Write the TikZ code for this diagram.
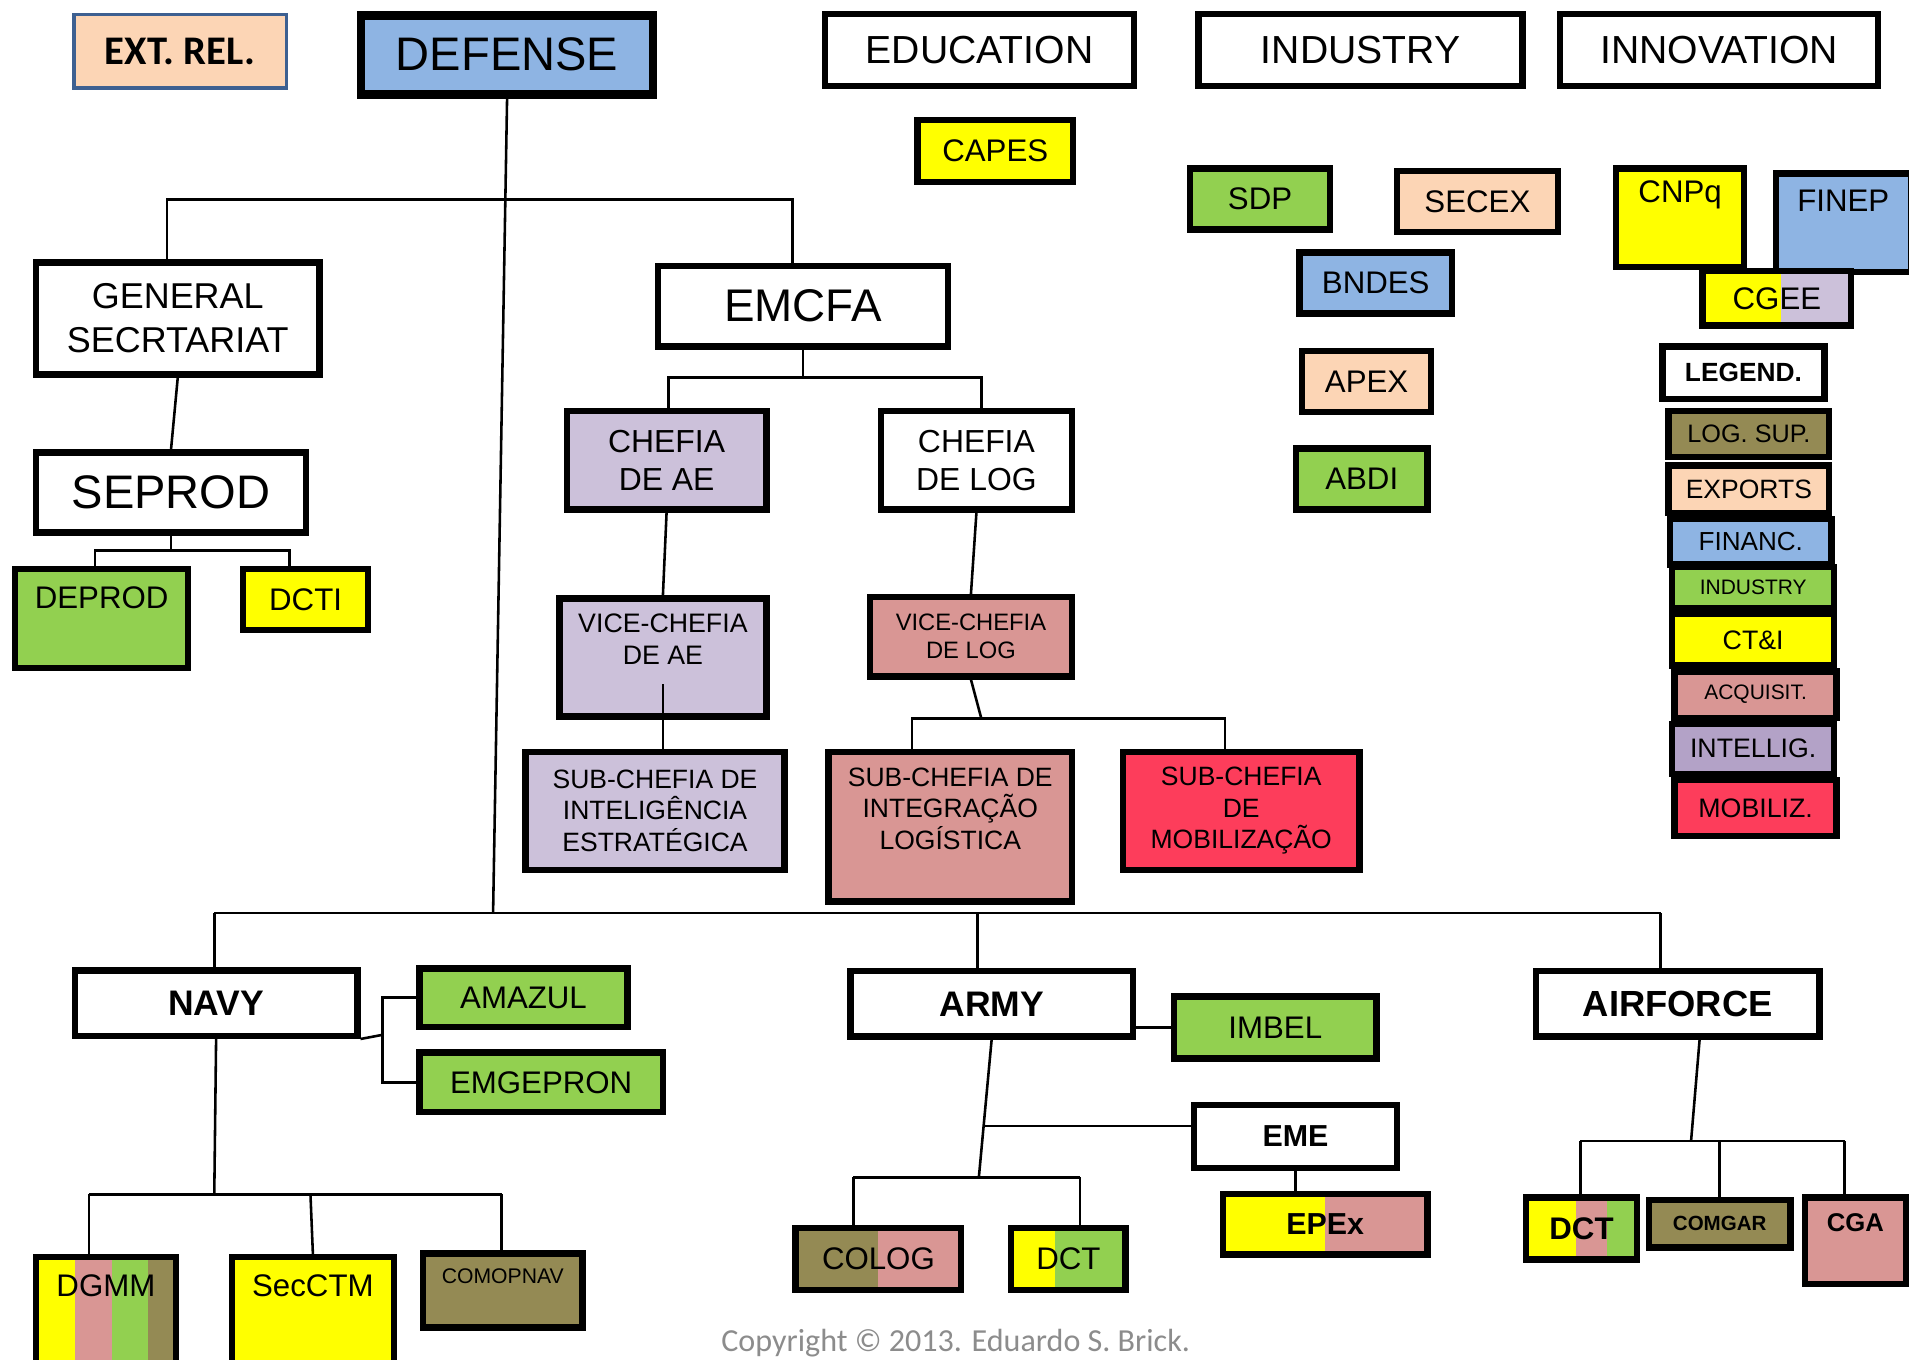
\documentclass[tikz,border=0pt]{standalone}
\usepackage{fontspec}
\setmainfont{Liberation Sans}
\newfontfamily\calibri{Carlito}
\usetikzlibrary{calc}

\definecolor{cblue}{HTML}{8EB4E3}
\definecolor{cpeach}{HTML}{FCD5B5}
\definecolor{cgreen}{HTML}{92D050}
\definecolor{cyel}{HTML}{FFFF00}
\definecolor{clav}{HTML}{CCC1DA}
\definecolor{cpink}{HTML}{D99694}
\definecolor{colive}{HTML}{948A54}
\definecolor{cpurple}{HTML}{B3A2C7}
\definecolor{cred}{HTML}{FD3D5B}
\definecolor{cframe}{HTML}{3D6091}
\definecolor{cgray}{HTML}{8C8C8C}

% extra depth below the text, pushes it up in a tall box
\newcommand{\lift}[1]{\rule[-#1]{0pt}{#1}}

\tikzset{
  box/.style={draw, line width=3pt, inner sep=0pt, align=center, font=\fontsize{14.6}{17}\selectfont},
  head/.style={box, minimum height=1.18cm, font=\fontsize{18.3}{22}\selectfont},
  force/.style={box, minimum height=1.07cm, font=\bfseries\fontsize{16.6}{20}\selectfont},
  conn/.style={line width=1.2pt},
  stripes/.style={path picture={
    \foreach \clr/\xa/\xb in {#1}
      \fill[\clr] ($(path picture bounding box.south west)!\xa!(path picture bounding box.south east)$)
        rectangle ($(path picture bounding box.north west)!\xb!(path picture bounding box.north east)$);
  }}
}

\begin{document}
\begin{tikzpicture}[x=0.02cm, y=-0.02cm]
\useasboundingbox (0,0) rectangle (1568,1117);

% top row
\node[box, draw=cframe, line width=1.6pt, fill=cpeach, minimum width=3.49cm, minimum height=1.21cm, font=\calibri\bfseries\fontsize{19}{22}\selectfont] (extrel) at (148,42) {EXT. REL.};
\node[box, line width=4pt, fill=cblue, minimum width=4.80cm, minimum height=1.30cm, font=\fontsize{22}{26}\selectfont] (defense) at (416.5,45) {DEFENSE};
\node[head, minimum width=5.08cm] (education) at (804.5,41) {EDUCATION};
\node[head, minimum width=5.32cm] (industry) at (1117.5,41) {INDUSTRY};
\node[head, minimum width=5.22cm] (innovation) at (1412,41) {INNOVATION};

% agencies
\node[box, fill=cyel, minimum width=2.56cm, minimum height=1.02cm] (capes) at (817.5,124) {CAPES};
\node[box, fill=cgreen, minimum width=2.30cm, minimum height=1.00cm] (sdp) at (1035,163.5) {SDP};
\node[box, fill=cpeach, minimum width=2.64cm, minimum height=1.00cm] (secex) at (1213.5,165.5) {SECEX};
\node[box, fill=cblue, minimum width=2.50cm, minimum height=1.00cm] (bndes) at (1130,232.5) {BNDES};
\node[box, fill=cpeach, minimum width=2.12cm, minimum height=1.00cm] (apex) at (1122.5,313.5) {APEX};
\node[box, fill=cgreen, minimum width=2.16cm, minimum height=1.00cm] (abdi) at (1118.5,393.5) {ABDI};
\node[box, fill=cyel, minimum width=2.10cm, minimum height=1.62cm] (cnpq) at (1380,179) {CNPq\lift{0.86cm}};
\node[box, fill=cblue, minimum width=2.22cm, minimum height=1.62cm] (finep) at (1514,183) {FINEP\lift{0.72cm}};
\node[box, stripes={cyel/0/0.53,clav/0.53/1}, minimum width=2.44cm, minimum height=0.90cm] (cgee) at (1459.5,245) {CGEE};

% legend
\node[box, minimum width=2.66cm, minimum height=0.86cm, font=\bfseries\fontsize{12.3}{14}\selectfont] (legend) at (1432,306) {LEGEND.};
\node[box, fill=colive, minimum width=2.64cm, minimum height=0.76cm, font=\fontsize{11.8}{14}\selectfont] (logsup) at (1436.5,356.5) {LOG. SUP.};
\node[box, fill=cpeach, minimum width=2.64cm, minimum height=0.78cm, font=\fontsize{12.4}{14}\selectfont] (exports) at (1436.5,402) {EXPORTS};
\node[box, fill=cblue, minimum width=2.66cm, minimum height=0.74cm, font=\fontsize{12.2}{14}\selectfont] (financ) at (1438,445) {FINANC.};
\node[box, fill=cgreen, minimum width=2.66cm, minimum height=0.68cm, font=\fontsize{9.8}{12}\selectfont] (indleg) at (1440,482.5) {INDUSTRY};
\node[box, fill=cyel, minimum width=2.66cm, minimum height=0.84cm, font=\fontsize{12.5}{14}\selectfont] (cti) at (1440,525.5) {CT\&I};
\node[box, fill=cpink, minimum width=2.66cm, minimum height=0.76cm, font=\fontsize{9.8}{12}\selectfont] (acquisit) at (1442,570.5) {ACQUISIT.};
\node[box, fill=cpurple, minimum width=2.66cm, minimum height=0.82cm, font=\fontsize{12.5}{14}\selectfont] (intellig) at (1440,615) {INTELLIG.};
\node[box, fill=cred, minimum width=2.66cm, minimum height=0.92cm, font=\fontsize{12.5}{14}\selectfont] (mobiliz) at (1442,663.5) {MOBILIZ.};

% general secretariat
\node[box, minimum width=4.66cm, minimum height=1.84cm, font=\fontsize{16.8}{20.5}\selectfont] (gensec) at (146,261.5) {GENERAL\\SECRTARIAT};
\node[box, minimum width=4.44cm, minimum height=1.32cm, font=\fontsize{22}{26}\selectfont] (seprod) at (140.5,404.5) {SEPROD};
\node[box, fill=cgreen, minimum width=2.84cm, minimum height=1.62cm] (deprod) at (83.5,508) {DEPROD\lift{0.68cm}};
\node[box, fill=cyel, minimum width=2.06cm, minimum height=1.00cm] (dcti) at (251,492.5) {DCTI};

% EMCFA
\node[box, minimum width=4.76cm, minimum height=1.32cm, font=\fontsize{21.4}{25}\selectfont] (emcfa) at (659.5,251.5) {EMCFA};
\node[box, fill=clav, minimum width=3.28cm, minimum height=1.62cm, font=\fontsize{14.9}{17.6}\selectfont] (chefae) at (547.5,378) {CHEFIA\\DE AE};
\node[box, minimum width=3.14cm, minimum height=1.62cm, font=\fontsize{14.9}{17.6}\selectfont] (cheflog) at (802,378) {CHEFIA\\DE LOG};
\node[box, fill=clav, minimum width=3.40cm, minimum height=1.94cm, font=\fontsize{12.5}{14.8}\selectfont] (viceae) at (544.5,540) {VICE-CHEFIA\\DE AE\lift{0.60cm}};
\node[box, fill=cpink, minimum width=3.32cm, minimum height=1.30cm, font=\fontsize{11.1}{13.1}\selectfont] (vicelog) at (797.5,523) {VICE-CHEFIA\\DE LOG};
\node[box, fill=clav, minimum width=4.26cm, minimum height=1.94cm, font=\fontsize{12.4}{14.8}\selectfont] (subie) at (538,666) {SUB-CHEFIA DE\\INTELIGÊNCIA\\ESTRATÉGICA};
\node[box, fill=cpink, minimum width=4.00cm, minimum height=2.46cm, font=\fontsize{12.4}{14.8}\selectfont] (subil) at (780.5,679) {SUB-CHEFIA DE\\INTEGRAÇÃO\\LOGÍSTICA\lift{0.60cm}};
\node[box, fill=cred, minimum width=3.88cm, minimum height=1.94cm, font=\fontsize{12.4}{14.8}\selectfont] (submob) at (1019.5,666) {SUB-CHEFIA\\DE\\MOBILIZAÇÃO};

% navy
\node[force, minimum width=4.64cm] (navy) at (177.5,824) {NAVY};
\node[box, fill=cgreen, minimum width=3.42cm, minimum height=0.96cm] (amazul) at (430,819.5) {AMAZUL};
\node[box, fill=cgreen, minimum width=4.00cm, minimum height=0.98cm] (emgepron) at (444.5,889) {EMGEPRON};
\node[box, stripes={cyel/0/0.28,cpink/0.28/0.54,cgreen/0.54/0.80,colive/0.80/1}, minimum width=2.30cm, minimum height=1.80cm] (dgmm) at (87,1077.5) {DGMM\lift{0.86cm}};
\node[box, fill=cyel, minimum width=2.66cm, minimum height=1.78cm] (secctm) at (257,1077) {SecCTM\lift{0.84cm}};
\node[box, fill=colive, minimum width=2.62cm, minimum height=1.22cm, font=\fontsize{9.9}{12}\selectfont] (comopnav) at (413,1060) {COMOPNAV\lift{0.48cm}};

% army
\node[force, minimum width=4.64cm] (army) at (814.5,824.5) {ARMY};
\node[box, fill=cgreen, minimum width=3.32cm, minimum height=1.02cm] (imbel) at (1047.5,844) {IMBEL};
\node[box, minimum width=3.34cm, minimum height=1.04cm, font=\bfseries\fontsize{14.2}{17}\selectfont] (eme) at (1064,933.5) {EME};
\node[box, stripes={cyel/0/0.5,cpink/0.5/1}, minimum width=3.36cm, minimum height=1.00cm, font=\bfseries\fontsize{14.2}{17}\selectfont] (epex) at (1088.5,1005.5) {EPEx};
\node[box, stripes={colive/0/0.5,cpink/0.5/1}, minimum width=2.72cm, minimum height=1.02cm] (colog) at (721.5,1034) {COLOG};
\node[box, stripes={cyel/0/0.38,cgreen/0.38/1}, minimum width=1.88cm, minimum height=1.02cm] (dcta) at (877.5,1034) {DCT};

% air force
\node[force, minimum width=4.66cm, font=\bfseries\fontsize{17}{20}\selectfont] (airforce) at (1378,824.5) {AIRFORCE};
\node[box, stripes={cyel/0/0.45,cpink/0.45/0.73,cgreen/0.73/1}, minimum width=1.82cm, minimum height=1.02cm, font=\bfseries\fontsize{14.6}{17}\selectfont] (dctaf) at (1299,1009) {DCT};
\node[box, fill=colive, minimum width=2.32cm, minimum height=0.78cm, font=\bfseries\fontsize{9.6}{12}\selectfont] (comgar) at (1412.5,1005) {COMGAR};
\node[box, fill=cpink, minimum width=1.66cm, minimum height=1.42cm, font=\bfseries\fontsize{12}{14}\selectfont] (cga) at (1524,1019) {CGA\lift{0.60cm}};

\node[font=\calibri\fontsize{15}{18}\selectfont, text=cgray, inner sep=0pt] (copyright) at (785,1103) {Copyright © 2013. Eduardo S. Brick.};

% connectors
\coordinate (tl) at (137,164);
\coordinate (tr) at (651,164);
\draw[conn] (gensec.north -| tl) -- (tl) -- (tr) -- (emcfa.north -| tr);
\coordinate (bl) at (176,750);
\coordinate (bm) at (405,750);
\coordinate (ba) at (803,750);
\coordinate (br) at (1364,750);
\draw[conn] (defense.south) -- (bm);
\draw[conn] (bl) -- (br);
\draw[conn] (bl) -- (navy.north -| bl);
\draw[conn] (ba) -- (army.north -| ba);
\draw[conn] (br) -- (airforce.north -| br);

\draw[conn] (gensec.south) -- (seprod.north);
\coordinate (sl) at (78,452);
\coordinate (sr) at (238,452);
\draw[conn] (seprod.south) -- (seprod.south |- sl);
\draw[conn] (deprod.north -| sl) -- (sl) -- (sr) -- (dcti.north -| sr);

\coordinate (el) at (549,310);
\coordinate (er) at (806,310);
\draw[conn] (emcfa.south) -- (emcfa.south |- el);
\draw[conn] (chefae.north -| el) -- (el) -- (er) -- (cheflog.north -| er);
\draw[conn] (chefae.south) -- (viceae.north);
\draw[conn] (cheflog.south) -- (vicelog.north);
\draw[conn] ($(viceae.south)+(0,-29)$) -- (subie.north -| viceae.south);
\coordinate (vl) at (749,590);
\coordinate (vm) at (806,590);
\coordinate (vr) at (1006,590);
\draw[conn] (vicelog.south) -- (vm);
\draw[conn] (subil.north -| vl) -- (vl) -- (vr) -- (submob.north -| vr);

\coordinate (nb) at (314,850);
\draw[conn] (navy.south east) -- (nb);
\draw[conn] (amazul.west) -| (nb) |- (emgepron.west);
\coordinate (nd) at (176,981);
\coordinate (ndl) at (73,981);
\coordinate (ndm) at (255,981);
\coordinate (ndr) at (412,981);
\draw[conn] (navy.south) -- (nd);
\draw[conn] (ndl) -- (ndr);
\draw[conn] (ndl) -- (dgmm.north -| ndl);
\draw[conn] (ndm) -- (secctm.north);
\draw[conn] (ndr) -- (comopnav.north -| ndr);

\draw[conn] (army.east |- imbel.west) -- (imbel.west);
\coordinate (ad) at (804,967);
\coordinate (ej) at ($(army.south)!0.628!(ad)$);
\draw[conn] (army.south) -- (ad);
\draw[conn] (ej) -- (eme.west |- ej);
\coordinate (al) at (701,967);
\coordinate (ar) at (887,967);
\draw[conn] (al) -- (ar);
\draw[conn] (al) -- (colog.north -| al);
\draw[conn] (ar) -- (dcta.north -| ar);
\draw[conn] (eme.south) -- (epex.north -| eme.south);

\coordinate (fd) at (1389,937);
\coordinate (fl) at (1298,937);
\coordinate (fr) at (1515,937);
\draw[conn] ($(airforce.south)+(18,0)$) -- (fd);
\draw[conn] (fl) -- (fr);
\draw[conn] (fl) -- (dctaf.north -| fl);
\draw[conn] (comgar.north |- fr) -- (comgar.north);
\draw[conn] (fr) -- (cga.north -| fr);
\end{tikzpicture}
\end{document}
